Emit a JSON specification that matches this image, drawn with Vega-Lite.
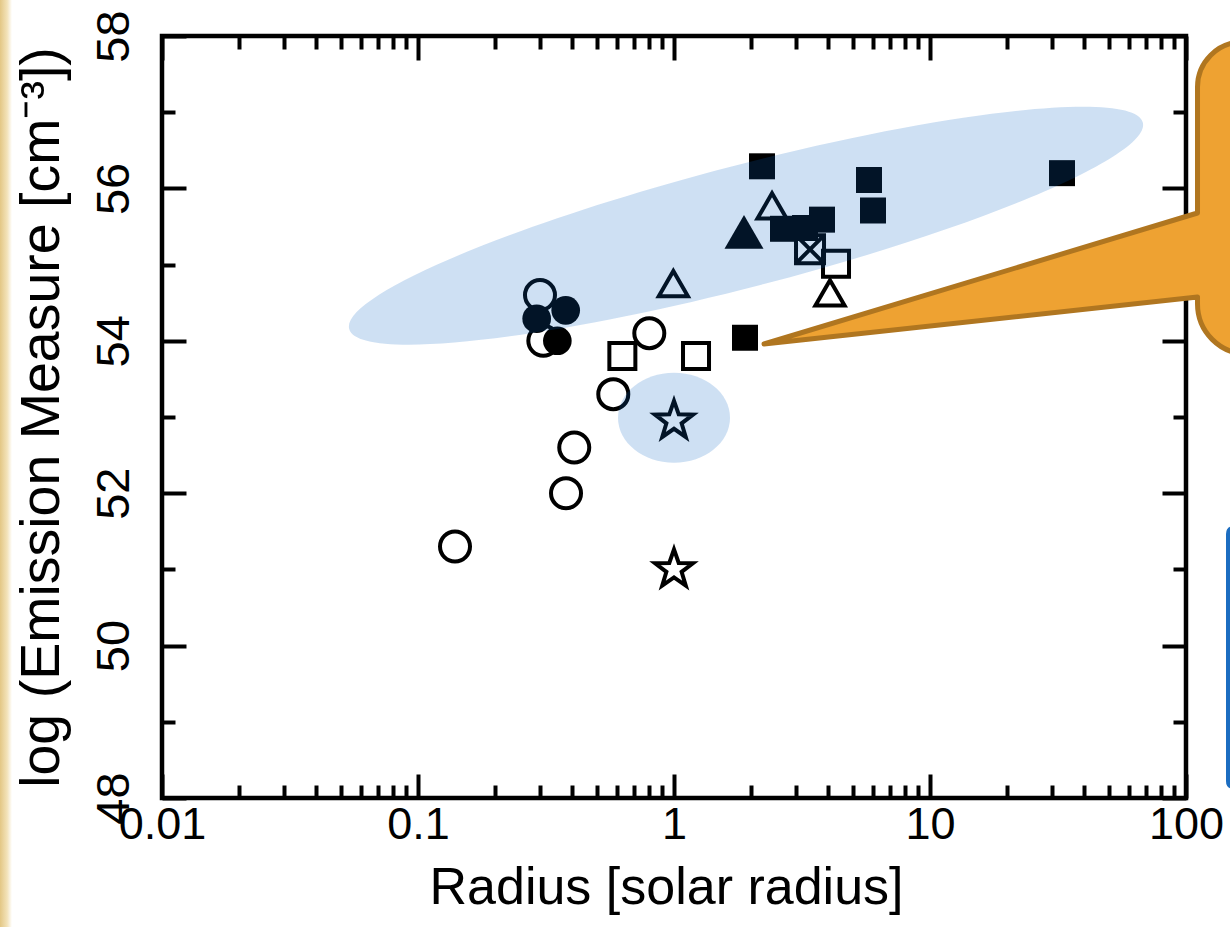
{
  "$schema": "https://vega.github.io/schema/vega-lite/v6.json",
  "width": 1024,
  "height": 762,
  "autosize": "none",
  "padding": {"left": 162, "top": 36, "right": 44, "bottom": 129},
  "config": {
    "background": "white",
    "view": {"stroke": "black", "strokeWidth": 4.5},
    "axis": {
      "domain": false, "grid": false, "tickColor": "black", "tickWidth": 4,
      "labelFont": "Liberation Sans", "labelColor": "black",
      "titleFont": "Liberation Sans", "titleColor": "black", "titleFontWeight": "normal",
      "labelOverlap": false, "labelFlush": false, "labelBound": false, "zindex": 0
    }
  },
  "datasets": {
    "stars": [
      {"type": "open circle", "R": 0.1395, "EM": 51.30},
      {"type": "open circle", "R": 0.3786, "EM": 52.00},
      {"type": "open circle", "R": 0.4077, "EM": 52.60},
      {"type": "open circle", "R": 0.5792, "EM": 53.30},
      {"type": "open circle", "R": 0.8008, "EM": 54.10},
      {"type": "open circle", "R": 0.2996, "EM": 54.60},
      {"type": "open circle", "R": 0.3087, "EM": 54.00},
      {"type": "filled circle", "R": 0.2908, "EM": 54.29},
      {"type": "filled circle", "R": 0.3775, "EM": 54.40},
      {"type": "filled circle", "R": 0.3502, "EM": 54.00},
      {"type": "open square", "R": 0.6285, "EM": 53.80},
      {"type": "open square", "R": 1.219, "EM": 53.80},
      {"type": "open square", "R": 4.294, "EM": 55.01},
      {"type": "filled square", "R": 1.894, "EM": 54.04},
      {"type": "filled square", "R": 2.207, "EM": 56.29},
      {"type": "filled square", "R": 5.776, "EM": 56.11},
      {"type": "filled square", "R": 5.988, "EM": 55.71},
      {"type": "filled square", "R": 32.78, "EM": 56.20},
      {"type": "filled square", "R": 3.786, "EM": 55.59},
      {"type": "filled square", "R": 2.666, "EM": 55.47},
      {"type": "filled square", "R": 3.249, "EM": 55.48},
      {"type": "open triangle", "R": 0.994, "EM": 54.75},
      {"type": "open triangle", "R": 2.415, "EM": 55.77},
      {"type": "open triangle", "R": 4.068, "EM": 54.63},
      {"type": "filled triangle", "R": 1.877, "EM": 55.43},
      {"type": "crossed square", "R": 3.399, "EM": 55.20},
      {"type": "open star", "R": 1.0, "EM": 52.95},
      {"type": "open star", "R": 1.0, "EM": 51.0}
    ],
    "notes": [
      {"note": "corner", "R": 0.01, "EM": 48},
      {"note": "big ellipse", "R": 1.911, "EM": 55.51},
      {"note": "small ellipse", "R": 1.0, "EM": 52.99},
      {"note": "callout", "R": 1.894, "EM": 54.04}
    ]
  },
  "resolve": {"axis": {"x": "independent", "y": "independent"}},
  "layer": [
    {
      "data": {"name": "notes"},
      "transform": [{"filter": "datum.note == 'corner'"}],
      "mark": {"type": "point", "shape": "M-162,-798L-150,-798L-150,129L-162,129Z", "size": 4, "filled": true, "opacity": 1, "strokeWidth": 0,
        "fill": {"gradient": "linear", "x1": 0, "y1": 0, "x2": 1, "y2": 0, "stops": [{"offset": 0, "color": "#E3C785"}, {"offset": 0.6, "color": "#F3E3BA"}, {"offset": 1, "color": "#FFFFFF"}]}},
      "encoding": {
        "x": {"field": "R", "type": "quantitative", "scale": {"type": "log", "domain": [0.01, 100], "nice": false}, "axis": null},
        "y": {"field": "EM", "type": "quantitative", "scale": {"domain": [48, 58], "nice": false, "zero": false}, "axis": null}
      }
    },
    {
      "data": {"name": "stars"},
      "transform": [{"filter": "datum.type == 'open circle'"}],
      "mark": {"type": "point", "shape": "circle", "filled": false, "stroke": "black", "strokeWidth": 4, "size": 900, "opacity": 1},
      "encoding": {
        "x": {"field": "R", "type": "quantitative", "scale": {"type": "log", "domain": [0.01, 100], "nice": false},
          "axis": {
            "orient": "bottom",
            "values": [0.01, 0.02, 0.03, 0.04, 0.05, 0.06, 0.07, 0.08, 0.09, 0.1, 0.2, 0.3, 0.4, 0.5, 0.6, 0.7, 0.8, 0.9, 1, 2, 3, 4, 5, 6, 7, 8, 9, 10, 20, 30, 40, 50, 60, 70, 80, 90, 100],
            "tickSize": {"condition": {"test": "indexof([0.01,0.1,1,10,100], datum.value) >= 0", "value": -24}, "value": -13},
            "labelExpr": "indexof([0.01,0.1,1,10,100], datum.value) >= 0 ? format(datum.value, '~g') : ''",
            "labelFontSize": 45, "labelBaseline": "alphabetic", "labelAlign": "center", "labelPadding": 64,
            "title": "Radius [solar radius]", "titleFontSize": 52, "titleX": 504, "titleY": 105,
            "titleBaseline": "alphabetic", "titleAlign": "center"
          }},
        "y": {"field": "EM", "type": "quantitative", "scale": {"domain": [48, 58], "nice": false, "zero": false},
          "axis": {
            "orient": "left",
            "values": [48, 49, 50, 51, 52, 53, 54, 55, 56, 57, 58],
            "tickSize": {"condition": {"test": "datum.value % 2 == 0", "value": -24}, "value": -13},
            "labelExpr": "datum.value % 2 == 0 ? datum.label : ''",
            "labelAngle": -90, "labelAlign": "center", "labelBaseline": "alphabetic", "labelFontSize": 47, "labelPadding": 58,
            "title": "log (Emission Measure [cm⁻³])", "titleFontSize": 55.5, "titleAngle": -90,
            "titleX": -104, "titleY": 381, "titleAlign": "center", "titleBaseline": "alphabetic"
          }}
      }
    },
    {
      "data": {"name": "stars"},
      "transform": [{"filter": "datum.type == 'filled circle'"}],
      "mark": {"type": "point", "shape": "circle", "filled": true, "fill": "black", "strokeWidth": 0, "size": 820, "opacity": 1},
      "encoding": {
        "x": {"field": "R", "type": "quantitative", "scale": {"type": "log", "domain": [0.01, 100], "nice": false}, "axis": null},
        "y": {"field": "EM", "type": "quantitative", "scale": {"domain": [48, 58], "nice": false, "zero": false}, "axis": null}
      }
    },
    {
      "data": {"name": "stars"},
      "transform": [{"filter": "datum.type == 'open square'"}],
      "mark": {"type": "point", "shape": "square", "filled": false, "stroke": "black", "strokeWidth": 4, "size": 676, "opacity": 1},
      "encoding": {
        "x": {"field": "R", "type": "quantitative", "scale": {"type": "log", "domain": [0.01, 100], "nice": false}, "axis": null},
        "y": {"field": "EM", "type": "quantitative", "scale": {"domain": [48, 58], "nice": false, "zero": false}, "axis": null}
      }
    },
    {
      "data": {"name": "stars"},
      "transform": [{"filter": "datum.type == 'filled square'"}],
      "mark": {"type": "point", "shape": "square", "filled": true, "fill": "black", "strokeWidth": 0, "size": 676, "opacity": 1},
      "encoding": {
        "x": {"field": "R", "type": "quantitative", "scale": {"type": "log", "domain": [0.01, 100], "nice": false}, "axis": null},
        "y": {"field": "EM", "type": "quantitative", "scale": {"domain": [48, 58], "nice": false, "zero": false}, "axis": null}
      }
    },
    {
      "data": {"name": "stars"},
      "transform": [{"filter": "datum.type == 'open triangle'"}],
      "mark": {"type": "point", "shape": "triangle-up", "filled": false, "stroke": "black", "strokeWidth": 4, "size": 850, "opacity": 1},
      "encoding": {
        "x": {"field": "R", "type": "quantitative", "scale": {"type": "log", "domain": [0.01, 100], "nice": false}, "axis": null},
        "y": {"field": "EM", "type": "quantitative", "scale": {"domain": [48, 58], "nice": false, "zero": false}, "axis": null}
      }
    },
    {
      "data": {"name": "stars"},
      "transform": [{"filter": "datum.type == 'filled triangle'"}],
      "mark": {"type": "point", "shape": "triangle-up", "filled": true, "fill": "black", "strokeWidth": 0, "size": 1520, "opacity": 1},
      "encoding": {
        "x": {"field": "R", "type": "quantitative", "scale": {"type": "log", "domain": [0.01, 100], "nice": false}, "axis": null},
        "y": {"field": "EM", "type": "quantitative", "scale": {"domain": [48, 58], "nice": false, "zero": false}, "axis": null}
      }
    },
    {
      "data": {"name": "stars"},
      "transform": [{"filter": "datum.type == 'crossed square'"}],
      "mark": {"type": "point", "shape": "M-1,-1L1,-1L1,1L-1,1Z M-1,-1L1,1 M1,-1L-1,1", "filled": false, "stroke": "black", "strokeWidth": 4, "size": 784, "opacity": 1},
      "encoding": {
        "x": {"field": "R", "type": "quantitative", "scale": {"type": "log", "domain": [0.01, 100], "nice": false}, "axis": null},
        "y": {"field": "EM", "type": "quantitative", "scale": {"domain": [48, 58], "nice": false, "zero": false}, "axis": null}
      }
    },
    {
      "data": {"name": "stars"},
      "transform": [{"filter": "datum.type == 'open star'"}],
      "mark": {"type": "point", "shape": "M0,-1L0.2351,-0.3236L0.9511,-0.309L0.3804,0.1236L0.5878,0.809L0,0.4L-0.5878,0.809L-0.3804,0.1236L-0.9511,-0.309L-0.2351,-0.3236Z", "filled": false, "stroke": "black", "strokeWidth": 4, "size": 1600, "opacity": 1},
      "encoding": {
        "x": {"field": "R", "type": "quantitative", "scale": {"type": "log", "domain": [0.01, 100], "nice": false}, "axis": null},
        "y": {"field": "EM", "type": "quantitative", "scale": {"domain": [48, 58], "nice": false, "zero": false}, "axis": null}
      }
    },
    {
      "data": {"name": "notes"},
      "transform": [{"filter": "datum.note == 'big ellipse'"}],
      "mark": {"type": "point", "shape": "M396.8,-103.2C405.3,-70.6 234.6,2 15.35,59.04C-203.8,116 -388.3,135.8 -396.8,103.2C-405.3,70.6 -234.6,-2 -15.35,-59.04C203.8,-116 388.3,-135.8 396.8,-103.2Z", "size": 4, "filled": true, "fill": "#0A66C3", "fillOpacity": 0.2, "strokeWidth": 0, "opacity": 1},
      "encoding": {
        "x": {"field": "R", "type": "quantitative", "scale": {"type": "log", "domain": [0.01, 100], "nice": false},
          "axis": {
            "orient": "top",
            "values": [0.01, 0.02, 0.03, 0.04, 0.05, 0.06, 0.07, 0.08, 0.09, 0.1, 0.2, 0.3, 0.4, 0.5, 0.6, 0.7, 0.8, 0.9, 1, 2, 3, 4, 5, 6, 7, 8, 9, 10, 20, 30, 40, 50, 60, 70, 80, 90, 100],
            "tickSize": {"condition": {"test": "indexof([0.01,0.1,1,10,100], datum.value) >= 0", "value": -24}, "value": -13},
            "labels": false, "title": null
          }},
        "y": {"field": "EM", "type": "quantitative", "scale": {"domain": [48, 58], "nice": false, "zero": false},
          "axis": {
            "orient": "right",
            "values": [48, 49, 50, 51, 52, 53, 54, 55, 56, 57, 58],
            "tickSize": {"condition": {"test": "datum.value % 2 == 0", "value": -24}, "value": -13},
            "labels": false, "title": null
          }}
      }
    },
    {
      "data": {"name": "notes"},
      "transform": [{"filter": "datum.note == 'small ellipse'"}],
      "mark": {"type": "point", "shape": "M-56,0A56,45 0 1 0 56,0A56,45 0 1 0 -56,0Z", "size": 4, "filled": true, "fill": "#0A66C3", "fillOpacity": 0.2, "strokeWidth": 0, "opacity": 1},
      "encoding": {
        "x": {"field": "R", "type": "quantitative", "scale": {"type": "log", "domain": [0.01, 100], "nice": false}, "axis": null},
        "y": {"field": "EM", "type": "quantitative", "scale": {"domain": [48, 58], "nice": false, "zero": false}, "axis": null}
      }
    },
    {
      "data": {"name": "notes"},
      "transform": [{"filter": "datum.note == 'callout'"}],
      "mark": {"type": "point", "shape": "M19,6.25L452.5,-124.75L452.5,-250.75A45,45 0 0 1 497.5,-295.75L620,-295.75L620,16.25L502.5,16.25A50,50 0 0 1 452.5,-33.75L452.5,-40.75Z", "size": 4, "filled": true, "fill": "#EEA232", "stroke": "#B07620", "strokeWidth": 5, "strokeJoin": "round", "opacity": 1},
      "encoding": {
        "x": {"field": "R", "type": "quantitative", "scale": {"type": "log", "domain": [0.01, 100], "nice": false}, "axis": null},
        "y": {"field": "EM", "type": "quantitative", "scale": {"domain": [48, 58], "nice": false, "zero": false}, "axis": null}
      }
    },
    {
      "data": {"name": "notes"},
      "transform": [{"filter": "datum.note == 'callout'"}],
      "mark": {"type": "point", "shape": "M489,190.25L620,190.25L620,449.25L489,449.25Q483,449.25 483,443.25L483,196.25Q483,190.25 489,190.25Z", "size": 4, "filled": true, "fill": "white", "stroke": "#1C6DC1", "strokeWidth": 4, "opacity": 1},
      "encoding": {
        "x": {"field": "R", "type": "quantitative", "scale": {"type": "log", "domain": [0.01, 100], "nice": false}, "axis": null},
        "y": {"field": "EM", "type": "quantitative", "scale": {"domain": [48, 58], "nice": false, "zero": false}, "axis": null}
      }
    }
  ]
}
